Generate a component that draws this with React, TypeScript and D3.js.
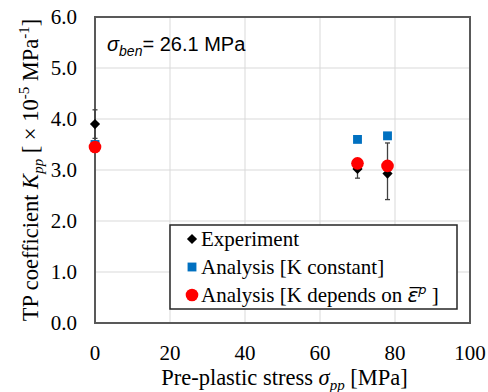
import * as d3 from "d3";
import { useEffect, useRef } from "react";

// pre-plastic stress [MPa]
const stress = [0, 70, 78];
// experiment, with error bar ends
const experiment = [3.9, 3.02, 2.93];
const expLow = [3.62, 2.84, 2.42];
const expHigh = [4.18, 3.2, 3.53];
// analyses
const kConstant = [3.5, 3.6, 3.67];
const kDepends = [3.45, 3.13, 3.08];

const xTicks = [0, 20, 40, 60, 80, 100];
const yTicks = [0, 1, 2, 3, 4, 5, 6];

const W = 488;
const H = 392;

export default function App() {
  const svgRef = useRef<SVGSVGElement | null>(null);

  useEffect(() => {
    const svg = d3.select(svgRef.current);
    svg.selectAll("*").remove();

    const margin = { top: 17, right: 18, bottom: 69, left: 95 };
    const x = d3.scaleLinear().domain([0, 100]).range([margin.left, W - margin.right]);
    const y = d3.scaleLinear().domain([0, 6]).range([H - margin.bottom, margin.top]);

    const serif = "'Liberation Serif', 'Times New Roman', serif";

    // gridlines
    svg.append("g")
      .selectAll("line")
      .data(yTicks.slice(1))
      .join("line")
      .attr("x1", x(0)).attr("x2", x(100))
      .attr("y1", (d) => y(d)).attr("y2", (d) => y(d))
      .attr("stroke", "#d9d9d9").attr("stroke-width", 1);
    svg.append("g")
      .selectAll("line")
      .data(xTicks.slice(1))
      .join("line")
      .attr("y1", y(0)).attr("y2", y(6))
      .attr("x1", (d) => x(d)).attr("x2", (d) => x(d))
      .attr("stroke", "#d9d9d9").attr("stroke-width", 1);

    // frame
    svg.append("rect")
      .attr("x", x(0)).attr("y", y(6))
      .attr("width", x(100) - x(0)).attr("height", y(0) - y(6))
      .attr("fill", "none").attr("stroke", "#595959").attr("stroke-width", 2);

    // tick labels
    svg.append("g")
      .selectAll("text")
      .data(yTicks)
      .join("text")
      .attr("x", x(0) - 18)
      .attr("y", (d) => y(d) + 7)
      .attr("text-anchor", "end")
      .style("font-family", serif).style("font-size", "21px")
      .text((d) => d3.format(".1f")(d));
    svg.append("g")
      .selectAll("text")
      .data(xTicks)
      .join("text")
      .attr("x", (d) => x(d))
      .attr("y", y(0) + 37)
      .attr("text-anchor", "middle")
      .style("font-family", serif).style("font-size", "21px")
      .text((d) => d);

    // x title
    const xt = svg.append("text")
      .attr("x", x(50) + 2).attr("y", y(0) + 62)
      .attr("text-anchor", "middle")
      .style("font-family", serif).style("font-size", "22.5px");
    xt.append("tspan").text("Pre-plastic stress ");
    xt.append("tspan").style("font-style", "italic").text("σ");
    xt.append("tspan").style("font-style", "italic").style("font-size", "15px").attr("dy", 5).text("pp");
    xt.append("tspan").attr("dy", -5).text(" [MPa]");

    // y title
    const yt = svg.append("text")
      .attr("transform", `translate(38,170) rotate(-90)`)
      .attr("text-anchor", "middle")
      .style("font-family", serif).style("font-size", "22.5px");
    yt.append("tspan").text("TP coefficient ");
    yt.append("tspan").style("font-style", "italic").text("K");
    yt.append("tspan").style("font-style", "italic").style("font-size", "15px").attr("dy", 5).text("pp");
    yt.append("tspan").attr("dy", -5).text(" [ × 10");
    yt.append("tspan").style("font-size", "15px").attr("dy", -9).text("-5");
    yt.append("tspan").attr("dy", 9).text(" MPa");
    yt.append("tspan").style("font-size", "15px").attr("dy", -9).text("-1");
    yt.append("tspan").attr("dy", 9).text("]");

    // annotation
    const ann = svg.append("text")
      .attr("x", x(0) + 12).attr("y", y(6) + 34)
      .style("font-family", "'Liberation Sans', Arial, sans-serif").style("font-size", "20px");
    ann.append("tspan").style("font-style", "italic").text("σ");
    ann.append("tspan").style("font-style", "italic").style("font-size", "14px").attr("dy", 5).text("ben");
    ann.append("tspan").attr("dy", -5).text("= 26.1 MPa");

    // error bars
    const eb = svg.append("g").attr("stroke", "#404040").attr("stroke-width", 1.3);
    stress.forEach((s, i) => {
      eb.append("line").attr("x1", x(s)).attr("x2", x(s)).attr("y1", y(expLow[i])).attr("y2", y(expHigh[i]));
      [expLow[i], expHigh[i]].forEach((v) =>
        eb.append("line").attr("x1", x(s) - 2.5).attr("x2", x(s) + 2.5).attr("y1", y(v)).attr("y2", y(v)));
    });

    const diamond = d3.symbol().type(d3.symbolDiamond2).size(66);
    const square = d3.symbol().type(d3.symbolSquare2).size(100);

    svg.append("g").selectAll("path")
      .data(stress)
      .join("path")
      .attr("d", square)
      .attr("transform", (d, i) => `translate(${x(d)},${y(kConstant[i])})`)
      .attr("fill", "#0070c0");
    svg.append("g").selectAll("path")
      .data(stress)
      .join("path")
      .attr("d", diamond)
      .attr("transform", (d, i) => `translate(${x(d)},${y(experiment[i])})`)
      .attr("fill", "#000");
    svg.append("g").selectAll("circle")
      .data(stress)
      .join("circle")
      .attr("cx", (d) => x(d)).attr("cy", (d, i) => y(kDepends[i]))
      .attr("r", 6.3)
      .attr("fill", "#ff0000");

    // legend
    const lg = svg.append("g").attr("transform", "translate(170,225)");
    lg.append("rect").attr("width", 287).attr("height", 84)
      .attr("fill", "#fff").attr("stroke", "#262626").attr("stroke-width", 1.5);
    const rows = ["Experiment", "Analysis [K constant]", "Analysis [K depends on "];
    rows.forEach((r, i) => {
      const cy = 14 + i * 28;
      if (i === 0) lg.append("path").attr("d", diamond).attr("transform", `translate(22,${cy})`).attr("fill", "#000");
      if (i === 1) lg.append("path").attr("d", square).attr("transform", `translate(22,${cy})`).attr("fill", "#0070c0");
      if (i === 2) lg.append("circle").attr("cx", 22).attr("cy", cy).attr("r", 6.3).attr("fill", "#ff0000");
      const t = lg.append("text").attr("x", 31).attr("y", cy + 7)
        .style("font-family", serif).style("font-size", "21px").text(r);
      if (i === 2) {
        t.append("tspan").style("font-family", "'DejaVu Sans', sans-serif").style("font-style", "italic")
          .style("font-size", "20px").text("ε\u0305");
        t.append("tspan").style("font-family", "'DejaVu Sans', sans-serif").style("font-style", "italic")
          .style("font-size", "13px").attr("dy", -8).text("p");
        t.append("tspan").attr("dy", 8).text(" ]");
      }
    });
  }, []);

  return (
    <div style={{ position: "absolute", left: 0, top: 0 }}>
      <svg ref={svgRef} width={W} height={H} style={{ display: "block", background: "#fff" }} />
    </div>
  );
}
